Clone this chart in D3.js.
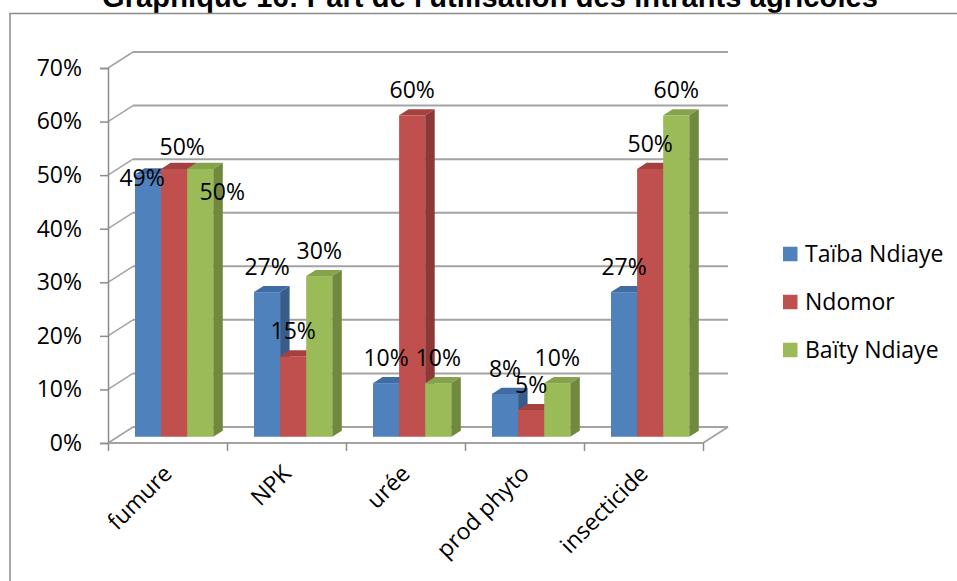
<!DOCTYPE html>
<html>
<head>
<meta charset="utf-8">
<script src="https://cdn.jsdelivr.net/npm/d3@7"></script>
<style>
  body { margin: 0; background: #fff; }
  text { font-family: "Open Sans", "Noto Sans", sans-serif; }
</style>
</head>
<body>
<svg></svg>
<script>
var categories = ["fumure", "NPK", "urée", "prod phyto", "insecticide"];
var seriesNames = ["Taïba Ndiaye", "Ndomor", "Baïty Ndiaye"];
var taibaNdiaye = [0.49, 0.27, 0.10, 0.08, 0.27];
var ndomor = [0.50, 0.15, 0.60, 0.05, 0.50];
var baityNdiaye = [0.50, 0.30, 0.10, 0.10, 0.60];
var yTicks = [0, 0.1, 0.2, 0.3, 0.4, 0.5, 0.6, 0.7];

var screen = {width: 957, height: 581};
var front = {left: 108, right: 703, bottom: 443, top: 68};
var depth = {dx: 25, dy: -16};      // back wall offset
var barDepth = {z0: 0.39, z1: 0.77};
var colors = {
  front: ["#4f81bd", "#c0504d", "#9bbb59"],
  top:   ["#3f6ca3", "#a4403d", "#85a34a"],
  side:  ["#385d8a", "#8c3836", "#71893f"]
};

var values = [taibaNdiaye, ndomor, baityNdiaye];

var svg = d3.select("svg")
  .attr("width", screen.width)
  .attr("height", screen.height);

// title + frame (title is clipped at the top, as in the source image)
svg.append("text")
  .attr("x", 102).attr("y", 7)
  .attr("textLength", 776)
  .style("font-family", "'Liberation Sans', Arial, sans-serif")
  .style("font-weight", "bold")
  .style("font-size", "29px")
  .text("Graphique 16: Part de l'utilisation des intrants agricoles");

svg.append("path")
  .attr("d", "M10,600V13.5H970")
  .attr("fill", "none")
  .attr("stroke", "#8a8a8a")
  .attr("stroke-width", 1.5);

var xScale = d3.scaleBand().domain(categories).range([front.left, front.right]);
var yScale = d3.scaleLinear().domain([0, 0.7]).range([front.bottom, front.top]);
var sub = d3.scaleBand().domain(seriesNames).range([17.25, 17.25 + 78.3]);

var grid = svg.append("g").attr("fill", "none");

// back wall grid + left wall diagonals
yTicks.forEach(function(t) {
  var y = yScale(t);
  grid.append("path")
    .attr("d", "M" + (front.left + depth.dx) + "," + (y + depth.dy) + "H" + (front.right + depth.dx))
    .attr("stroke", "#a3a3a3").attr("stroke-width", 2);
  grid.append("path")
    .attr("d", "M" + front.left + "," + y + "L" + (front.left + depth.dx) + "," + (y + depth.dy))
    .attr("stroke", "#a3a3a3").attr("stroke-width", 1.5);
});

// floor right edge
grid.append("path")
  .attr("d", "M" + front.right + "," + front.bottom + "L" + (front.right + depth.dx) + "," + (front.bottom + depth.dy))
  .attr("stroke", "#a3a3a3").attr("stroke-width", 2);

// y axis
var yAxis = d3.axisLeft(yScale).tickValues(yTicks).tickSize(8).tickPadding(18)
  .tickFormat(d3.format(".0%"));
var yg = svg.append("g").attr("transform", "translate(" + front.left + ",0)").call(yAxis);
yg.select(".domain").attr("stroke", "#8c8c8c").attr("stroke-width", 1.5);
yg.selectAll(".tick line").attr("stroke", "#8c8c8c").attr("stroke-width", 1.5);
yg.selectAll(".tick text")
  .style("font-family", "'Open Sans', sans-serif")
  .style("font-size", "23px").attr("fill", "#000");

// x axis
var xAxis = d3.axisBottom(d3.scaleLinear().domain([0, categories.length]).range([front.left, front.right]))
  .ticks(categories.length).tickSize(8).tickFormat("");
var xg = svg.append("g").attr("transform", "translate(0," + front.bottom + ")").call(xAxis);
xg.select(".domain").attr("stroke", "#a3a3a3").attr("stroke-width", 2).attr("d", "M" + front.left + ",0H" + front.right);
xg.selectAll(".tick line").attr("stroke", "#8c8c8c").attr("stroke-width", 1.5);

svg.append("g").selectAll("text")
  .data(categories)
  .enter().append("text")
  .attr("transform", function(d) {
    return "translate(" + (xScale(d) + xScale.bandwidth() / 2 + 6) + ",475) rotate(-45)";
  })
  .attr("text-anchor", "end")
  .style("font-size", "23px")
  .text(function(d) { return d; });

// bars
var zx0 = barDepth.z0 * depth.dx, zy0 = barDepth.z0 * depth.dy;
var sdx = (barDepth.z1 - barDepth.z0) * depth.dx, sdy = (barDepth.z1 - barDepth.z0) * depth.dy;
var bw = sub.bandwidth();

var bars = [];
categories.forEach(function(c, ci) {
  seriesNames.forEach(function(s, si) {
    bars.push({cat: c, series: s, si: si, value: values[si][ci]});
  });
});

var bg = svg.append("g");
bars.forEach(function(b) {
  var xl = xScale(b.cat) + sub(b.series) + zx0;
  var xr = xl + bw;
  var yt = yScale(b.value) + zy0;
  var yb = yScale(0) + zy0;
  bg.append("rect")
    .attr("x", xl).attr("y", yt).attr("width", bw).attr("height", yb - yt)
    .attr("fill", colors.front[b.si]);
  bg.append("path")
    .attr("d", "M" + xl + "," + yt + "L" + xr + "," + yt + "L" + (xr + sdx) + "," + (yt + sdy) + "L" + (xl + sdx) + "," + (yt + sdy) + "Z")
    .attr("fill", colors.top[b.si]);
  bg.append("path")
    .attr("d", "M" + xr + "," + yt + "L" + (xr + sdx) + "," + (yt + sdy) + "L" + (xr + sdx) + "," + (yb + sdy) + "L" + xr + "," + yb + "Z")
    .attr("fill", colors.side[b.si]);
});

// data labels (fumure labels are shifted as in the original)
var nudge = {
  "fumure|Taïba Ndiaye": [-6, 29],
  "fumure|Ndomor": [8, 3],
  "fumure|Baïty Ndiaye": [22, 48]
};
svg.append("g").selectAll("text")
  .data(bars)
  .enter().append("text")
  .attr("x", function(d) {
    var n = nudge[d.cat + "|" + d.series] || [0, 0];
    return xScale(d.cat) + sub(d.series) + zx0 + bw / 2 + n[0];
  })
  .attr("y", function(d) {
    var n = nudge[d.cat + "|" + d.series] || [0, 0];
    return yScale(d.value) + zy0 - 25 + n[1];
  })
  .attr("dy", "0.35em")
  .attr("text-anchor", "middle")
  .style("font-size", "23px")
  .text(function(d) { return Math.round(d.value * 100) + "%"; });

// legend
var legend = svg.append("g").attr("transform", "translate(783,254)");
var items = legend.selectAll("g").data(seriesNames).enter().append("g")
  .attr("transform", function(d, i) { return "translate(0," + (i * 48) + ")"; });
items.append("rect").attr("x", 0).attr("y", -7.25).attr("width", 14.5).attr("height", 14.5)
  .attr("fill", function(d, i) { return colors.front[i]; });
items.append("text").attr("x", 22).attr("dy", "0.35em")
  .style("font-size", "23px")
  .text(function(d) { return d; });
</script>
</body>
</html>
